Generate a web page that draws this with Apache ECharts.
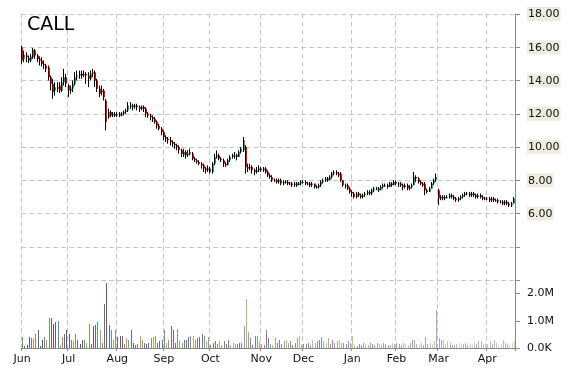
<!DOCTYPE html>
<html><head><meta charset="utf-8">
<script src="https://cdn.jsdelivr.net/npm/echarts@6/dist/echarts.min.js"></script>
<style>html,body{margin:0;padding:0;background:#fff}#c{width:570px;height:370px}</style>
</head><body><div id="c"></div>
<script>
const symbol = 'CALL';
const dates = [
'2014-06-02','2014-06-03','2014-06-04','2014-06-05','2014-06-06','2014-06-09','2014-06-10','2014-06-11','2014-06-12','2014-06-13','2014-06-16','2014-06-17','2014-06-18','2014-06-19','2014-06-20','2014-06-23','2014-06-24','2014-06-25','2014-06-26','2014-06-27','2014-06-30',
'2014-07-01','2014-07-02','2014-07-03','2014-07-07','2014-07-08','2014-07-09','2014-07-10','2014-07-11','2014-07-14','2014-07-15','2014-07-16','2014-07-17','2014-07-18','2014-07-21','2014-07-22','2014-07-23','2014-07-24','2014-07-25','2014-07-28','2014-07-29','2014-07-30','2014-07-31',
'2014-08-01','2014-08-04','2014-08-05','2014-08-06','2014-08-07','2014-08-08','2014-08-11','2014-08-12','2014-08-13','2014-08-14','2014-08-15','2014-08-18','2014-08-19','2014-08-20','2014-08-21','2014-08-22','2014-08-25','2014-08-26','2014-08-27','2014-08-28','2014-08-29',
'2014-09-02','2014-09-03','2014-09-04','2014-09-05','2014-09-08','2014-09-09','2014-09-10','2014-09-11','2014-09-12','2014-09-15','2014-09-16','2014-09-17','2014-09-18','2014-09-19','2014-09-22','2014-09-23','2014-09-24','2014-09-25','2014-09-26','2014-09-29','2014-09-30',
'2014-10-01','2014-10-02','2014-10-03','2014-10-06','2014-10-07','2014-10-08','2014-10-09','2014-10-10','2014-10-13','2014-10-14','2014-10-15','2014-10-16','2014-10-17','2014-10-20','2014-10-21','2014-10-22','2014-10-23','2014-10-24','2014-10-27','2014-10-28','2014-10-29','2014-10-30','2014-10-31',
'2014-11-03','2014-11-04','2014-11-05','2014-11-06','2014-11-07','2014-11-10','2014-11-11','2014-11-12','2014-11-13','2014-11-14','2014-11-17','2014-11-18','2014-11-19','2014-11-20','2014-11-21','2014-11-24','2014-11-25','2014-11-26','2014-11-28',
'2014-12-01','2014-12-02','2014-12-03','2014-12-04','2014-12-05','2014-12-08','2014-12-09','2014-12-10','2014-12-11','2014-12-12','2014-12-15','2014-12-16','2014-12-17','2014-12-18','2014-12-19','2014-12-22','2014-12-23','2014-12-24','2014-12-26','2014-12-29','2014-12-30','2014-12-31',
'2015-01-02','2015-01-05','2015-01-06','2015-01-07','2015-01-08','2015-01-09','2015-01-12','2015-01-13','2015-01-14','2015-01-15','2015-01-16','2015-01-20','2015-01-21','2015-01-22','2015-01-23','2015-01-26','2015-01-27','2015-01-28','2015-01-29','2015-01-30',
'2015-02-02','2015-02-03','2015-02-04','2015-02-05','2015-02-06','2015-02-09','2015-02-10','2015-02-11','2015-02-12','2015-02-13','2015-02-17','2015-02-18','2015-02-19','2015-02-20','2015-02-23','2015-02-24','2015-02-25','2015-02-26','2015-02-27',
'2015-03-02','2015-03-03','2015-03-04','2015-03-05','2015-03-06','2015-03-09','2015-03-10','2015-03-11','2015-03-12','2015-03-13','2015-03-16','2015-03-17','2015-03-18','2015-03-19','2015-03-20','2015-03-23','2015-03-24','2015-03-25','2015-03-26','2015-03-27','2015-03-30','2015-03-31',
'2015-04-01','2015-04-02','2015-04-06','2015-04-07','2015-04-08','2015-04-09','2015-04-10','2015-04-13','2015-04-14','2015-04-15','2015-04-16','2015-04-17','2015-04-20'
];
const opens = [
16.00,15.30,15.50,15.35,15.20,15.40,15.80,15.50,15.30,15.20,15.00,14.90,14.80,14.20,13.80,13.40,13.60,13.70,13.40,13.90,14.20,
13.70,13.40,13.50,13.80,14.20,14.30,14.40,14.30,14.40,14.30,14.10,14.40,14.50,14.00,13.50,13.40,13.40,12.80,11.80,12.10,11.90,12.00,
11.90,12.00,11.90,12.00,12.10,12.20,12.50,12.50,12.40,12.50,12.40,12.30,12.40,12.30,12.00,11.90,11.80,11.70,11.50,11.30,11.10,
10.90,10.60,10.50,10.40,10.30,10.20,10.10,10.00,9.80,9.50,9.70,9.50,9.60,9.60,9.30,9.20,9.10,9.00,8.90,8.70,8.60,
8.70,8.50,9.00,9.40,9.50,9.30,9.20,9.00,8.90,9.20,9.40,9.50,9.50,9.40,9.70,9.80,10.00,8.80,8.70,8.80,8.60,8.50,8.60,
8.70,8.60,8.70,8.50,8.30,8.20,8.00,8.00,7.90,8.00,7.80,7.90,7.90,7.80,7.80,7.70,7.80,7.70,7.80,
7.90,7.90,7.80,7.80,7.70,7.80,7.60,7.60,7.70,7.90,8.00,8.10,8.00,8.20,8.40,8.50,8.40,8.40,8.00,7.70,7.70,7.50,
7.30,7.20,7.00,7.20,7.10,7.00,7.10,7.20,7.30,7.20,7.40,7.50,7.50,7.40,7.60,7.70,7.70,7.60,7.80,7.70,
7.90,7.80,7.80,7.70,7.60,7.70,7.50,7.60,7.70,8.20,8.10,7.90,7.80,7.80,7.40,7.30,7.50,7.80,8.00,
7.40,6.90,7.00,6.90,7.00,7.00,7.10,7.00,6.90,6.80,6.90,7.00,7.10,7.20,7.20,7.10,7.20,7.10,7.00,7.10,7.00,6.90,
6.90,6.90,6.80,6.90,6.80,6.80,6.70,6.70,6.60,6.70,6.60,6.50,6.60
];
const closes = [
15.20,15.55,15.40,15.20,15.45,15.85,15.50,15.30,15.20,15.00,14.95,14.70,14.20,13.80,13.30,13.60,13.50,13.40,13.90,14.20,13.80,
13.40,13.50,13.80,14.20,14.30,14.40,14.30,14.40,14.30,14.10,14.40,14.50,14.00,13.50,13.20,13.30,13.00,11.50,12.10,11.90,12.00,11.90,
12.00,11.90,12.00,12.10,12.20,12.50,12.50,12.40,12.50,12.40,12.30,12.40,12.30,12.00,11.90,11.80,11.70,11.50,11.30,11.10,10.90,
10.60,10.50,10.40,10.30,10.20,10.10,10.00,9.80,9.60,9.70,9.50,9.60,9.70,9.30,9.20,9.10,9.00,8.90,8.70,8.60,8.70,
8.50,9.00,9.40,9.50,9.30,9.20,9.00,8.90,9.20,9.40,9.50,9.50,9.40,9.70,9.90,10.40,8.80,8.70,8.80,8.60,8.50,8.60,8.70,
8.60,8.70,8.50,8.30,8.20,8.00,8.00,7.90,8.00,7.80,7.90,7.90,7.80,7.80,7.70,7.80,7.70,7.80,7.90,
7.90,7.80,7.80,7.70,7.80,7.60,7.60,7.70,7.90,8.00,8.10,8.00,8.20,8.40,8.50,8.40,8.30,8.00,7.70,7.70,7.50,7.30,
7.20,7.00,7.20,7.10,7.00,7.10,7.20,7.30,7.20,7.40,7.50,7.50,7.40,7.60,7.70,7.70,7.60,7.80,7.70,7.90,
7.80,7.80,7.70,7.60,7.70,7.50,7.60,7.70,8.20,8.10,7.90,7.80,7.70,7.40,7.30,7.50,7.80,8.00,8.20,
6.90,7.00,6.90,7.00,7.00,7.10,7.00,6.90,6.80,6.90,7.00,7.10,7.20,7.20,7.10,7.20,7.10,7.00,7.10,7.00,6.90,6.90,
6.90,6.80,6.90,6.80,6.80,6.70,6.70,6.60,6.70,6.60,6.50,6.60,6.90
];
const lows = [
15.00,15.10,15.10,15.05,15.10,15.30,15.30,15.10,14.90,14.85,14.70,14.50,14.00,13.40,12.90,13.10,13.30,13.25,13.30,13.70,13.60,
13.00,13.20,13.30,13.70,14.00,14.10,14.10,14.20,13.80,13.60,14.00,14.20,13.60,13.30,13.00,13.10,12.80,11.00,11.70,11.80,11.80,11.80,
11.80,11.80,11.85,11.90,12.00,12.10,12.30,12.20,12.30,12.20,12.10,12.20,12.10,11.80,11.75,11.60,11.50,11.40,11.10,11.00,10.70,
10.40,10.30,10.20,10.10,10.00,9.90,9.80,9.60,9.40,9.40,9.30,9.40,9.50,9.20,9.10,9.00,8.90,8.70,8.50,8.40,8.50,
8.40,8.40,8.90,9.30,9.20,9.10,8.80,8.80,8.90,9.10,9.30,9.30,9.20,9.40,9.60,9.70,8.40,8.50,8.60,8.40,8.30,8.40,8.50,
8.50,8.50,8.40,8.20,8.10,7.90,7.90,7.80,7.80,7.70,7.70,7.80,7.70,7.70,7.60,7.60,7.60,7.70,7.70,
7.80,7.70,7.70,7.60,7.60,7.50,7.50,7.50,7.60,7.80,7.90,7.90,8.00,8.10,8.30,8.30,8.20,7.90,7.60,7.50,7.40,7.20,
7.00,6.90,6.90,7.00,6.90,6.90,7.00,7.10,7.10,7.10,7.30,7.40,7.30,7.40,7.50,7.60,7.50,7.60,7.60,7.70,
7.70,7.60,7.60,7.40,7.50,7.40,7.40,7.50,7.70,7.90,7.80,7.70,7.60,7.10,7.20,7.30,7.50,7.70,7.90,
6.50,6.80,6.80,6.80,6.90,6.90,6.90,6.80,6.70,6.70,6.80,6.90,7.00,7.10,7.00,7.00,7.00,6.90,6.90,6.90,6.80,6.80,
6.80,6.70,6.70,6.70,6.70,6.60,6.60,6.50,6.50,6.50,6.40,6.40,6.60
];
const highs = [
16.10,15.80,15.70,15.50,15.60,15.95,15.90,15.60,15.45,15.40,15.20,15.00,14.90,14.30,14.10,13.90,13.90,13.90,14.20,14.70,14.40,
13.80,13.70,14.00,14.50,14.60,14.60,14.60,14.60,14.50,14.50,14.60,14.70,14.60,14.10,13.70,13.70,13.50,12.90,12.30,12.20,12.10,12.10,
12.10,12.10,12.10,12.20,12.30,12.70,12.70,12.60,12.60,12.60,12.50,12.50,12.50,12.40,12.10,12.00,11.90,11.80,11.60,11.40,11.20,
11.00,10.70,10.60,10.60,10.40,10.30,10.20,10.10,9.90,9.90,9.80,9.80,9.90,9.70,9.40,9.30,9.20,9.10,9.00,8.80,8.90,
8.80,9.10,9.60,9.80,9.60,9.40,9.30,9.10,9.30,9.50,9.60,9.70,9.60,9.80,10.00,10.60,10.10,9.00,9.00,8.90,8.70,8.80,8.90,
8.80,8.80,8.80,8.60,8.40,8.30,8.10,8.10,8.10,8.10,8.00,8.00,8.00,7.90,7.90,7.90,7.90,7.90,8.00,
8.00,8.00,7.90,7.90,7.90,7.80,7.70,7.80,8.00,8.10,8.20,8.20,8.30,8.50,8.60,8.60,8.50,8.50,8.00,7.80,7.80,7.60,
7.40,7.30,7.30,7.30,7.20,7.20,7.30,7.40,7.40,7.50,7.60,7.60,7.60,7.70,7.80,7.80,7.80,7.90,7.90,8.00,
8.00,7.90,7.90,7.80,7.80,7.80,7.70,7.80,8.50,8.30,8.20,8.00,7.90,7.90,7.50,7.60,7.90,8.10,8.40,
7.50,7.10,7.10,7.10,7.10,7.20,7.20,7.10,7.00,7.00,7.10,7.20,7.30,7.30,7.30,7.30,7.30,7.20,7.20,7.20,7.10,7.00,
7.00,7.00,7.00,7.00,6.90,6.90,6.80,6.80,6.80,6.80,6.70,6.70,7.00
];
// volume in thousands of shares
const volumes = [
420,60,100,420,350,350,500,650,80,300,400,300,1100,1100,900,950,1000,120,400,500,650,
500,300,250,500,300,150,300,300,200,900,150,800,850,950,650,200,1600,2400,850,650,300,650,
400,450,450,150,350,300,650,200,100,150,450,300,200,150,200,350,400,450,200,250,300,
650,200,300,800,650,200,700,250,200,300,300,400,450,450,300,350,400,500,450,250,400,
100,200,250,150,250,100,250,150,300,100,200,150,150,200,200,800,1800,600,350,100,450,450,250,
150,100,650,350,150,100,350,200,300,150,250,300,200,250,100,200,350,450,100,
150,150,200,100,300,200,250,300,400,250,200,350,150,300,200,250,300,200,200,150,250,200,
450,100,80,150,120,200,150,120,200,150,100,200,150,120,200,150,100,120,200,150,
200,150,120,200,150,100,200,300,300,150,120,200,100,400,150,200,150,250,1400,
350,300,300,150,250,200,120,100,150,200,100,150,200,120,150,100,200,150,250,250,150,200,
150,250,150,300,200,120,150,300,200,150,100,200,250
];
const priceTicks = {min: 2, max: 18, step: 2, firstLabel: 6};
const volTicks = {min: 0, max: 2500, step: 1000};
const monthNames = ['Jan','Feb','Mar','Apr','May','Jun','Jul','Aug','Sep','Oct','Nov','Dec'];

const isMonthStart = (i) => i === 0 || dates[i].slice(5,7) !== dates[i-1].slice(5,7);
const volPalette = [[125,154,64],[63,107,159],[158,59,58],[106,81,145],[62,147,171],[224,136,61]];

const chart = echarts.init(document.getElementById('c'), null, {renderer:'canvas'});
const FONT = 'DejaVu Sans';
const gridDash = {color:'#c8c8c8', type:[5,3], width:1};

const candleData = dates.map((d,i)=>[i, opens[i], closes[i], lows[i], highs[i]]);
const volData = dates.map((d,i)=>[i, volumes[i]]);

chart.setOption({
  animation:false,
  backgroundColor:'#fff',
  title:{text:symbol, left:27, top:16, padding:0, textStyle:{fontFamily:FONT, fontSize:19, fontWeight:'normal', color:'#000'}},
  grid:[
    {left:21, right:55, top:14, height:266},
    {left:21, right:55, top:280, height:68}
  ],
  xAxis:[
    {type:'category', gridIndex:0, data:dates, boundaryGap:true,
     axisLine:{show:false}, axisTick:{show:false}, axisLabel:{show:false},
     splitLine:{show:true, interval:(i)=>isMonthStart(i), lineStyle:gridDash}},
    {type:'category', gridIndex:1, data:dates, boundaryGap:true,
     axisLine:{show:true, lineStyle:{color:'#888'}},
     axisTick:{show:true, length:3, interval:(i)=>isMonthStart(i), lineStyle:{color:'#888'}},
     axisLabel:{show:true, interval:(i)=>isMonthStart(i), margin:6, fontFamily:FONT, fontSize:11, color:'#111',
       formatter:(v)=>monthNames[parseInt(v.slice(5,7),10)-1]},
     splitLine:{show:true, interval:(i)=>isMonthStart(i), lineStyle:gridDash}}
  ],
  yAxis:[
    {type:'value', gridIndex:0, position:'right', min:priceTicks.min, max:priceTicks.max, interval:priceTicks.step,
     axisLine:{show:true, lineStyle:{color:'#888'}},
     axisTick:{show:true, length:5, lineStyle:{color:'#888'}},
     splitLine:{show:true, lineStyle:gridDash},
     axisLabel:{margin:12, fontFamily:FONT, fontSize:11, color:'#111',
       formatter:(v)=> v >= priceTicks.firstLabel ? '{b|'+v.toFixed(2)+'}' : '',
       rich:{b:{backgroundColor:'#eeebdf', padding:[2,1,1,1], fontFamily:FONT, fontSize:11, color:'#111'}}}},
    {type:'value', gridIndex:1, position:'right', min:volTicks.min, max:volTicks.max, interval:volTicks.step,
     axisLine:{show:true, lineStyle:{color:'#888'}},
     axisTick:{show:true, length:5, lineStyle:{color:'#888'}},
     splitLine:{show:false},
     axisLabel:{margin:12, fontFamily:FONT, fontSize:11, color:'#111',
       formatter:(v)=> v === 0 ? '0.0K' : (v <= 2000 ? (v/1000).toFixed(1)+'M' : '')}}
  ],
  series:[
    {type:'custom', xAxisIndex:0, yAxisIndex:0, data:candleData, encode:{x:0, y:[1,2,3,4]},
     renderItem:(params, api)=>{
       const i = api.value(0), o = api.value(1), c = api.value(2), l = api.value(3), h = api.value(4);
       const pH = api.coord([i,h]), pL = api.coord([i,l]), pO = api.coord([i,o]), pC = api.coord([i,c]);
       const x = Math.round(pH[0]);
       const top = Math.min(pO[1], pC[1]);
       const ht = Math.max(1, Math.abs(pO[1]-pC[1]));
       const up = c >= o;
       return {type:'group', children:[
         {type:'line', shape:{x1:x-0.5, y1:pH[1], x2:x-0.5, y2:pL[1]}, style:{stroke:'#000', lineWidth:1}},
         {type:'rect', shape:{x:x, y:top, width:1, height:ht}, style:{fill: up ? '#1ea866' : '#ff0000'}}
       ]};
     }},
    {type:'custom', xAxisIndex:1, yAxisIndex:1, data:volData, encode:{x:0, y:1},
     renderItem:(params, api)=>{
       const i = api.value(0), v = api.value(1);
       const pT = api.coord([i,v]), pB = api.coord([i,0]);
       const x = Math.round(pT[0]);
       const c = volPalette[i % volPalette.length];
       const a = 1 - 0.6 * Math.pow(i / (dates.length-1), 1.3);
       return {type:'rect', shape:{x:x, y:Math.round(pT[1]), width:1, height:Math.round(pB[1])-Math.round(pT[1])},
               style:{fill:'rgba('+c[0]+','+c[1]+','+c[2]+','+a.toFixed(3)+')'}};
     }}
  ]
});
</script></body></html>
